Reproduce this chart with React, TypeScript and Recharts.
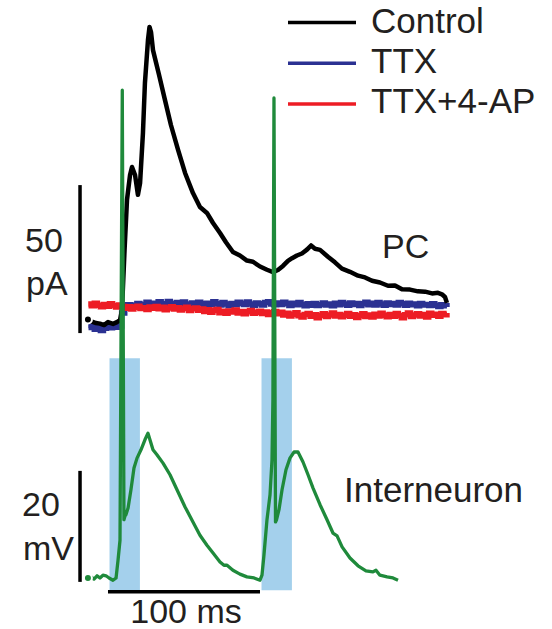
import React from 'react';
import { ComposedChart, Line, XAxis, YAxis, ReferenceArea, ReferenceLine } from 'recharts';

// ---- time axis (ms) ----
const timeDomain: [number, number] = [-71.05, 292.11];

// ---- PC current traces (pA) ----
const controlTimes = [-13.2, -10.5, -7.9, -5.3, -2.6, 0, 3.3, 5.9, 7.9, 9.2, 10.9, 12.5, 14.5, 15.8, 17.8, 19.7, 21.1, 23.0, 24.3, 26.3, 27.3, 28.3, 29.6, 33.6, 37.5, 41.4, 46.1, 50.7, 55.9, 60.5, 65.1, 69.1, 73.7, 77.6, 82.2, 86.8, 91.4, 95.4, 100.0, 104.6, 108.6, 111.8, 115.1, 118.4, 121.1, 124.3, 127.6, 130.9, 133.6, 136.2, 139.5, 144.7, 149.3, 153.9, 159.2, 164.5, 169.1, 173.7, 178.9, 184.2, 188.8, 193.4, 198.7, 203.9, 208.6, 213.2, 217.1, 219.7, 221.7, 223.0];
const controlValues = [-3.2, -3.9, -4.4, -4.6, -5.1, -4.1, -4.7, -4.1, -3.4, 0, 20.3, 37.2, 45.6, 48.3, 45.6, 38.9, 42.9, 59.8, 76.7, 91.2, 95.6, 93.9, 87.8, 79.4, 70.9, 62.5, 54.1, 46.3, 39.5, 34.8, 32.8, 29.4, 26.0, 22.9, 19.6, 18.4, 16.7, 16.3, 14.7, 13.6, 12.8, 13.5, 14.9, 16.6, 17.5, 18.4, 19.1, 20.4, 21.8, 20.7, 20.3, 18.0, 16.1, 14.0, 12.9, 11.6, 11.0, 9.9, 9.3, 8.2, 8.3, 7.0, 6.9, 6.3, 6.2, 5.6, 5.8, 5.3, 4.4, 2.4];

// shared sampling times for TTX traces: -13 .. 223 step 2
const ttxTimes = [-13, -11, -9, -7, -5, -3, -1, 1, 3, 5, 7, 9, 11, 13, 15, 17, 19, 21, 23, 25, 27, 29, 31, 33, 35, 37, 39, 41, 43, 45, 47, 49, 51, 53, 55, 57, 59, 61, 63, 65, 67, 69, 71, 73, 75, 77, 79, 81, 83, 85, 87, 89, 91, 93, 95, 97, 99, 101, 103, 105, 107, 109, 111, 113, 115, 117, 119, 121, 123, 125, 127, 129, 131, 133, 135, 137, 139, 141, 143, 145, 147, 149, 151, 153, 155, 157, 159, 161, 163, 165, 167, 169, 171, 173, 175, 177, 179, 181, 183, 185, 187, 189, 191, 193, 195, 197, 199, 201, 203, 205, 207, 209, 211, 213, 215, 217, 219, 221, 223];
const ttxValues = [
  -5.2, -5.9, -6.5, -5.6, -6.9, -6.2, -5.5, -6.0, -5.3, -5.8, -5.4, -1.0,
  1.2, 1.8, 0.9, 1.6, 2.2, 1.4, 1.9, 2.6, 1.7, 2.3,
  1.5, 2.8, 2.1, 1.6, 2.9, 2.2, 1.8, 2.5, 1.9, 2.7,
  2.0, 1.5, 2.4, 1.8, 2.6, 2.2, 1.6, 2.3, 1.9, 2.8,
  2.1, 1.7, 2.5, 2.0, 1.4, 2.2, 1.8, 2.6, 2.3, 1.9,
  2.7, 2.0, 1.6, 2.4, 2.1, 1.7, 2.5, 2.8, 2.0, 1.8,
  2.4, 1.9, 2.6, 2.2, 1.5, 2.3, 1.8, 2.5, 1.9, 1.4,
  2.1, 1.6, 2.2, 1.5, 1.9, 2.4, 1.7, 2.0, 1.4, 2.3,
  1.8, 2.5, 2.0, 1.6, 2.4, 1.9, 2.2, 1.5, 2.1, 2.6,
  1.8, 2.3, 1.7, 2.5, 2.0, 1.6, 2.4, 1.9, 2.2, 1.7,
  2.5, 2.1, 1.6, 2.3, 1.8, 2.0, 1.4, 2.2, 1.7, 1.9,
  1.5, 2.1, 1.6, 1.2, 1.8, 1.4, 1.0,
];
const ttx4apValues = [
  2.0, 1.4, 2.3, 1.6, 1.1, 1.9, 1.3, 2.1, 1.5, 1.0, 1.7, 1.2,
  0.6, 1.1, 0.3, 0.9, 1.3, 0.5, 0.8, 0.2, 1.0, 0.6,
  1.2, 0.4, 0.9, 0.1, 0.7, 1.1, 0.3, 0.8, 0.0, 0.5,
  0.9, -0.2, 0.4, 0.7, -0.1,
  0.3, -0.5, 0.1, -0.8, -0.2, 0.2, -0.9, -0.4, -1.1, -0.3,
  -0.7, 0.0, -1.0, -0.5, -1.3, -0.6, -0.2, -1.1, -0.8, -0.4,
  -1.2, -0.7, -1.5, -0.9, -0.5,
  -1.3, -0.8, -1.7, -1.1, -2.0, -1.4, -0.9, -1.9, -2.4, -1.5,
  -1.2, -2.1, -1.6, -2.6, -1.8, -1.3, -2.2, -1.7, -1.0, -2.0,
  -1.5, -2.3, -1.8, -1.2, -2.1,
  -1.6, -2.5, -1.9, -1.3, -2.2, -1.7, -2.4, -1.4, -2.0, -1.1,
  -1.8, -2.3, -1.5, -2.1, -1.2, -1.9, -2.6, -1.6, -1.0, -2.2,
  -1.7, -1.3, -2.0, -1.5, -2.4, -1.1, -1.8, -1.4, -2.1, -1.2,
  -1.6, -1.0,
];
const pADomain: [number, number] = [-107.77, 104.73];

// ---- Interneuron membrane potential (mV) ----
const inTimes = [-13.2, -11.2, -9.2, -7.2, -5.3, -3.3, -1.3, 0.7, 3.3, 5.3, 6.6, 7.9, 9.4, 10.5, 11.2, 11.8, 13.2, 15.1, 17.1, 19.1, 21.7, 24.3, 26.3, 27.6, 29.6, 32.2, 36.2, 40.8, 45.4, 50.7, 55.9, 60.5, 65.1, 69.1, 73.7, 76.3, 78.3, 82.2, 86.8, 91.4, 96.1, 100.0, 101.3, 102.6, 104.6, 106.6, 107.9, 108.5, 109.2, 110.2, 110.9, 112.5, 114.5, 117.1, 119.7, 122.4, 125.0, 128.3, 131.6, 134.9, 139.5, 144.1, 148.0, 150.7, 154.0, 159.2, 164.5, 169.7, 174.3, 176.3, 178.9, 183.6, 187.5, 190.8];
const inValues = [-65.0, -64.8, -65.2, -64.6, -65.0, -64.5, -64.6, -65.0, -65.4, -65.0, -61.8, -58.2, 22.9, -54.5, -53.8, -53.6, -52.4, -49.1, -45.2, -43.4, -41.9, -40.1, -38.9, -40.1, -41.9, -42.8, -44.3, -46.4, -49.1, -52.2, -54.9, -57.3, -59.1, -60.5, -62.1, -62.7, -62.7, -63.6, -64.3, -64.8, -65.0, -65.4, -64.5, -60.9, -54.5, -50.0, -43.7, -32.9, 21.5, -54.9, -54.5, -52.7, -49.1, -45.5, -43.4, -42.3, -42.3, -44.1, -46.4, -48.8, -51.8, -54.5, -56.9, -57.4, -59.4, -61.4, -62.8, -63.7, -63.9, -63.6, -64.5, -64.8, -65.0, -65.4];
const mVDomain: [number, number] = [-74.19, 39.14];

// ---- stimulation windows (ms) ----
const stimStarts = [1, 101];
const stimEnds = [21, 121];
const stimTop = -25.4;
const stimBottom = -67.2;

// ---- scale bars ----
const scaleBarX = -18.4;
const pABar = [-7.8, 42.2];
const mVBar = [-65.7, -45.7];
const msBar = [0, 100];
const msBarLevel = -67.5;

const legendItems = [
  { name: 'Control', color: '#000000' },
  { name: 'TTX', color: '#2b3192' },
  { name: 'TTX+4-AP', color: '#ed1c24' },
];

const toSeries = (ts: number[], vs: number[]) => ts.map((t, i) => ({ t, v: vs[i] }));

const controlData = toSeries(controlTimes, controlValues);
const ttxData = toSeries(ttxTimes, ttxValues);
const ttx4apData = toSeries(ttxTimes, ttx4apValues);
const inData = toSeries(inTimes, inValues);

const TEXT = '#231f20';
const FONT = '"Liberation Sans", Arial, sans-serif';

export default function App() {
  return (
    <div style={{ position: 'absolute', left: 0, top: 0, width: 552, height: 629, background: '#fff' }}>
      <ComposedChart width={552} height={629} margin={{ top: 0, right: 0, bottom: 0, left: 0 }}>
        <XAxis type="number" dataKey="t" domain={timeDomain} allowDataOverflow hide />
        <YAxis yAxisId="pA" type="number" domain={pADomain} allowDataOverflow hide />
        <YAxis yAxisId="mV" type="number" domain={mVDomain} allowDataOverflow hide />
        {stimStarts.map((s, i) => (
          <ReferenceArea key={i} yAxisId="mV" x1={s} x2={stimEnds[i]} y1={stimBottom} y2={stimTop} fill="#a4d0ec" fillOpacity={1} stroke="none" />
        ))}
        <ReferenceLine yAxisId="pA" segment={[{ x: scaleBarX, y: pABar[0] }, { x: scaleBarX, y: pABar[1] }]} stroke="#000" strokeWidth={3.5} />
        <ReferenceLine yAxisId="mV" segment={[{ x: scaleBarX, y: mVBar[0] }, { x: scaleBarX, y: mVBar[1] }]} stroke="#000" strokeWidth={3.5} />
        <ReferenceLine yAxisId="mV" segment={[{ x: msBar[0], y: msBarLevel }, { x: msBar[1], y: msBarLevel }]} stroke="#000" strokeWidth={3.5} />
        <Line yAxisId="pA" data={ttxData} dataKey="v" type="stepAfter" stroke="#2b3192" strokeWidth={5.5} dot={false} isAnimationActive={false} />
        <Line yAxisId="pA" data={ttx4apData} dataKey="v" type="stepAfter" stroke="#ed1c24" strokeWidth={5.5} dot={false} isAnimationActive={false} />
        <Line yAxisId="pA" data={controlData} dataKey="v" type="linear" stroke="#000000" strokeWidth={4.5} dot={false} isAnimationActive={false} strokeLinejoin="round" />
        <Line yAxisId="mV" data={inData} dataKey="v" type="linear" stroke="#1f8a3b" strokeWidth={3.3} dot={false} isAnimationActive={false} strokeLinejoin="round" />
      </ComposedChart>
      <svg width={552} height={629} style={{ position: 'absolute', left: 0, top: 0, pointerEvents: 'none' }}>
        {legendItems.map((it, i) => (
          <g key={it.name}>
            <line x1={288} x2={356} y1={22.5 + i * 40.7} y2={22.5 + i * 40.7} stroke={it.color} strokeWidth={3.5} />
            <text x={371} y={33 + i * 40} fontSize={35} fontFamily={FONT} fill={TEXT}>{it.name}</text>
          </g>
        ))}
        <text x={25} y={252} fontSize={34} fontFamily={FONT} fill={TEXT}>50</text>
        <text x={26} y={295} fontSize={34} fontFamily={FONT} fill={TEXT}>pA</text>
        <text x={22} y={516} fontSize={34} fontFamily={FONT} fill={TEXT}>20</text>
        <text x={23} y={560} fontSize={34} fontFamily={FONT} fill={TEXT}>mV</text>
        <text x={382} y={258} fontSize={34} fontFamily={FONT} fill={TEXT}>PC</text>
        <text x={344} y={502} fontSize={35} fontFamily={FONT} fill={TEXT}>Interneuron</text>
        <text x={186} y={623} fontSize={34} fontFamily={FONT} fill={TEXT} textAnchor="middle">100 ms</text>
      </svg>
    </div>
  );
}
